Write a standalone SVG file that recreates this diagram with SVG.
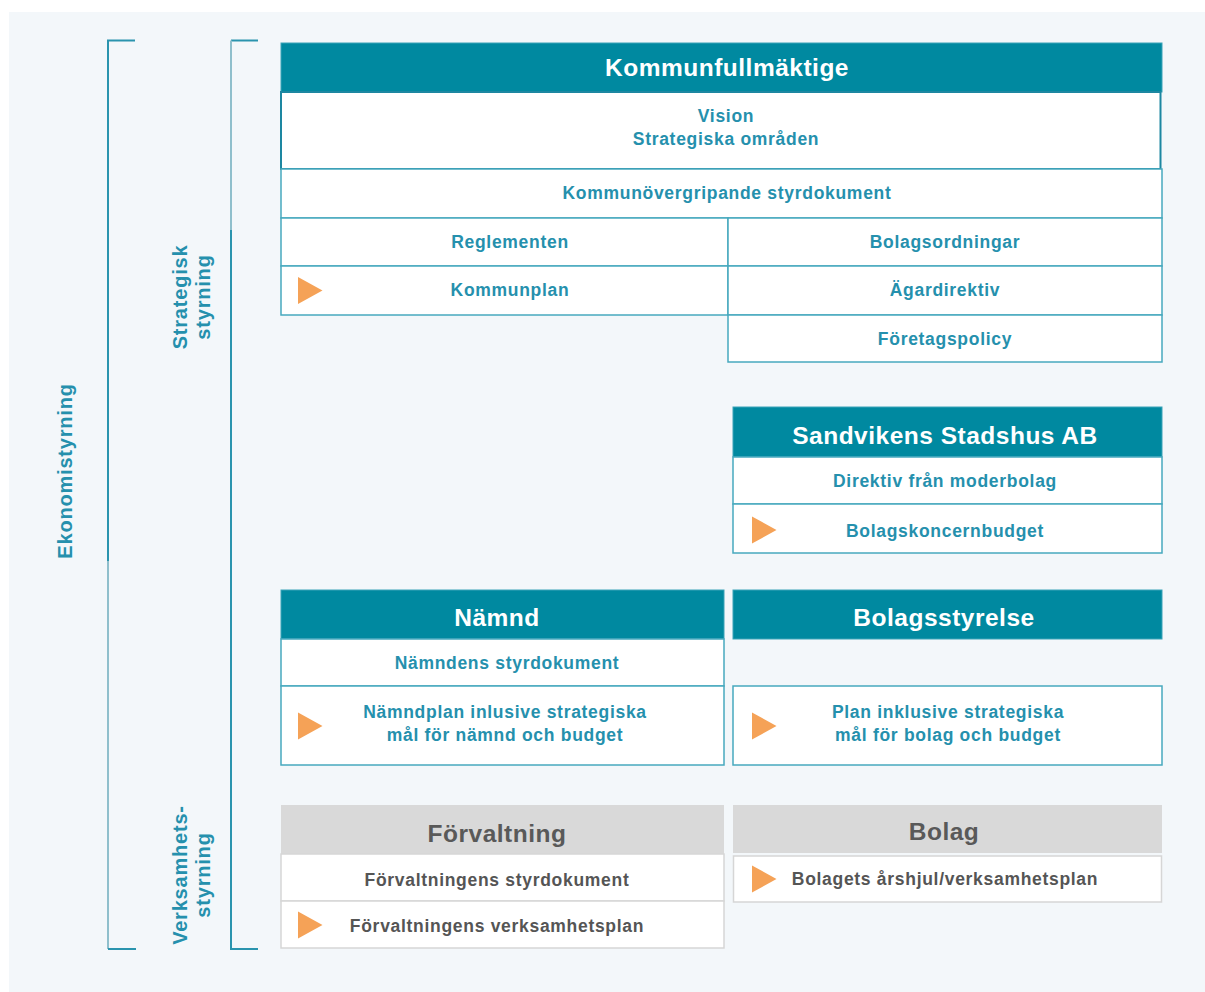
<svg xmlns="http://www.w3.org/2000/svg" xmlns:xlink="http://www.w3.org/1999/xlink" width="1205" height="992" viewBox="0 0 1205 992">
  <style>
    .hdr { fill: #0089a0; stroke: #3aa3b8; stroke-width: 1; }
    .cell { fill: #ffffff; stroke: #47a9be; stroke-width: 1.5; }
    .gcell { fill: #ffffff; stroke: #d6d6d6; stroke-width: 1.5; }
    .ghdr { fill: #d9d9d9; }
    .ht { font-family: "Liberation Sans", Arial, sans-serif; font-weight: bold; font-size: 24.5px; letter-spacing: 0.5px; fill: #ffffff; text-anchor: middle; }
    .ght { font-family: "Liberation Sans", Arial, sans-serif; font-weight: bold; font-size: 24.5px; letter-spacing: 0.5px; fill: #595959; text-anchor: middle; }
    .t { font-family: "Liberation Sans", Arial, sans-serif; font-weight: bold; font-size: 17.5px; letter-spacing: 0.7px; fill: #2590ad; text-anchor: middle; }
    .gt { font-family: "Liberation Sans", Arial, sans-serif; font-weight: bold; font-size: 17.5px; letter-spacing: 0.7px; fill: #555555; text-anchor: middle; }
    .side { font-family: "Liberation Sans", Arial, sans-serif; font-weight: bold; font-size: 20px; letter-spacing: 0.8px; fill: #2590ad; text-anchor: middle; }
    .br { fill: none; stroke: #2a94ae; stroke-width: 2; }
    .brl { fill: none; stroke: #8fbfcc; stroke-width: 2; }
  </style>
  <defs>
    <path id="tri" d="M0,-13.5 L24.5,0 L0,13.5 Z" fill="#f5a257"/>
  </defs>

  <!-- page -->
  <rect x="0" y="0" width="1205" height="992" fill="#ffffff"/>
  <rect x="9" y="12" width="1196" height="980" fill="#f3f7fa"/>

  <!-- brackets and side labels -->
  <g id="brackets">
    <path class="br" d="M135,40.5 H108 V561"/>
    <path class="brl" d="M108,561 V949"/>
    <path class="br" d="M108,949 H136"/>
    <path class="br" d="M258,40.5 H231"/>
    <path class="brl" d="M231,40.5 V230"/>
    <path class="br" d="M231,230 V949 H258"/>
  </g>
  <g id="label-ekonomistyrning">
    <text class="side" transform="translate(0,471) rotate(-90)" x="0" y="72">Ekonomistyrning</text>
  </g>
  <g id="label-strategisk">
    <text class="side" transform="translate(0,297) rotate(-90)" x="0" y="187">Strategisk</text>
    <text class="side" transform="translate(0,297) rotate(-90)" x="0" y="210">styrning</text>
  </g>
  <g id="label-verksamhet">
    <text class="side" transform="translate(0,875) rotate(-90)" x="0" y="187">Verksamhets-</text>
    <text class="side" transform="translate(0,875) rotate(-90)" x="0" y="210">styrning</text>
  </g>

  <!-- Kommunfullmäktige -->
  <g id="kommunfullmaktige">
    <rect class="hdr" x="281" y="43" width="881" height="49"/>
    <text class="ht" x="727" y="75.5">Kommunfullmäktige</text>
    <rect x="281" y="92" width="879.5" height="77" fill="#ffffff" stroke="#1d87a1" stroke-width="2"/>
    <text class="t" x="726" y="122">Vision</text>
    <text class="t" x="726" y="145">Strategiska områden</text>
    <rect class="cell" x="281" y="169" width="881" height="49"/>
    <text class="t" x="727" y="199">Kommunövergripande styrdokument</text>
    <rect class="cell" x="281" y="218" width="447" height="48"/>
    <text class="t" x="510" y="248">Reglementen</text>
    <rect class="cell" x="728" y="218" width="434" height="48"/>
    <text class="t" x="945" y="248">Bolagsordningar</text>
    <rect class="cell" x="281" y="266" width="447" height="49"/>
    <use xlink:href="#tri" x="298" y="290.5"/>
    <text class="t" x="510" y="296">Kommunplan</text>
    <rect class="cell" x="728" y="266" width="434" height="49"/>
    <text class="t" x="945" y="296">Ägardirektiv</text>
    <rect class="cell" x="728" y="315" width="434" height="47"/>
    <text class="t" x="945" y="345">Företagspolicy</text>
  </g>

  <!-- Sandvikens Stadshus AB -->
  <g id="stadshus">
    <rect class="hdr" x="733" y="407" width="429" height="50"/>
    <text class="ht" x="945" y="443.5">Sandvikens Stadshus AB</text>
    <rect class="cell" x="733" y="457" width="429" height="47"/>
    <text class="t" x="945" y="487">Direktiv från moderbolag</text>
    <rect class="cell" x="733" y="504" width="429" height="49"/>
    <use xlink:href="#tri" x="752" y="530"/>
    <text class="t" x="945" y="537">Bolagskoncernbudget</text>
  </g>

  <!-- Nämnd -->
  <g id="namnd">
    <rect class="hdr" x="281" y="590" width="443" height="49"/>
    <text class="ht" x="497" y="625.5">Nämnd</text>
    <rect class="cell" x="281" y="639" width="443" height="47"/>
    <text class="t" x="507" y="669">Nämndens styrdokument</text>
    <rect class="cell" x="281" y="686" width="443" height="79"/>
    <use xlink:href="#tri" x="298" y="726"/>
    <text class="t" x="505" y="718">Nämndplan inlusive strategiska</text>
    <text class="t" x="505" y="741">mål för nämnd och budget</text>
  </g>

  <!-- Bolagsstyrelse -->
  <g id="bolagsstyrelse">
    <rect class="hdr" x="733" y="590" width="429" height="49"/>
    <text class="ht" x="944" y="625.5">Bolagsstyrelse</text>
    <rect class="cell" x="733" y="686" width="429" height="79"/>
    <use xlink:href="#tri" x="752" y="726"/>
    <text class="t" x="948" y="718">Plan inklusive strategiska</text>
    <text class="t" x="948" y="741">mål för bolag och budget</text>
  </g>

  <!-- Förvaltning -->
  <g id="forvaltning">
    <rect class="ghdr" x="281" y="805" width="443" height="49"/>
    <text class="ght" x="497" y="841.5">Förvaltning</text>
    <rect class="gcell" x="281" y="854" width="443" height="47"/>
    <text class="gt" x="497" y="886">Förvaltningens styrdokument</text>
    <rect class="gcell" x="281" y="901" width="443" height="47"/>
    <use xlink:href="#tri" x="298" y="925"/>
    <text class="gt" x="497" y="932">Förvaltningens verksamhetsplan</text>
  </g>

  <!-- Bolag -->
  <g id="bolag">
    <rect class="ghdr" x="733" y="805" width="429" height="48"/>
    <text class="ght" x="944" y="839.5">Bolag</text>
    <rect class="gcell" x="733.5" y="856" width="428" height="46"/>
    <use xlink:href="#tri" x="752" y="879"/>
    <text class="gt" x="945" y="885">Bolagets årshjul/verksamhetsplan</text>
  </g>
</svg>
